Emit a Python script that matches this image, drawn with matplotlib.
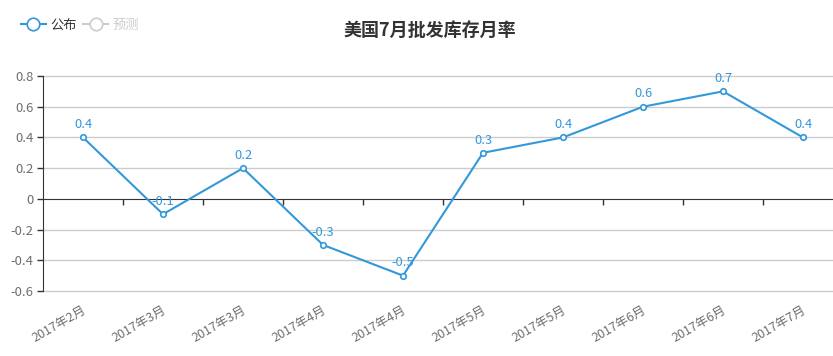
import matplotlib
matplotlib.use('Agg')
import matplotlib.pyplot as plt
import matplotlib.transforms as mtransforms
from matplotlib.lines import Line2D

plt.rcParams['font.family'] = ['Noto Sans CJK SC', 'DejaVu Sans']

# data
months = ['2017年2月', '2017年3月', '2017年3月', '2017年4月', '2017年4月',
          '2017年5月', '2017年5月', '2017年6月', '2017年6月', '2017年7月']
actual = [0.4, -0.1, 0.2, -0.3, -0.5, 0.3, 0.4, 0.6, 0.7, 0.4]
yticks = [-0.6, -0.4, -0.2, 0, 0.2, 0.4, 0.6, 0.8]

blue = '#3398db'
grey_txt = '#6e6e6e'
axis_col = '#333333'

W, H = 833, 356
fig = plt.figure(figsize=(W / 100, H / 100), dpi=100)
# plot area spills past the right edge like the original
ax = fig.add_axes([43 / W, (H - 291) / H, 800 / W, 215 / H])

x = list(range(len(months)))
ax.plot(x, actual, color=blue, lw=1.5, marker='o', ms=4, mfc='white',
        mec=blue, mew=1.2, zorder=5, clip_on=False)

for xi, v in zip(x, actual):
    ax.annotate('{:g}'.format(v), (xi, v), xytext=(0, 4.5), textcoords='offset points',
                ha='center', va='bottom', color=blue, fontsize=9.3, zorder=6)

ax.set_xlim(-0.5, len(months) - 0.5)
ax.set_ylim(-0.6, 0.8)
ax.set_yticks(yticks)
ax.set_yticklabels(['{:g}'.format(t) for t in yticks])
for t in yticks:
    if t != 0:
        ax.axhline(t, color='#cccccc', lw=1, zorder=1, clip_on=False)

for s in ['top', 'right']:
    ax.spines[s].set_visible(False)
ax.spines['left'].set_color(axis_col)
ax.spines['bottom'].set_position(('data', 0))
ax.spines['bottom'].set_color(axis_col)
ax.spines['bottom'].set_zorder(3)

ax.tick_params(axis='y', colors=axis_col, labelcolor=grey_txt, labelsize=9.5,
               length=4, width=1, pad=3)
# boundary ticks on the zero line
ax.set_xticks([i + 0.5 for i in x[:-1]])
ax.set_xticklabels([])
ax.tick_params(axis='x', colors=axis_col, length=4, width=1)

# category labels under the plot area
trans = mtransforms.blended_transform_factory(ax.transData, ax.transAxes)
for xi, m in zip(x, months):
    ax.text(xi + 0.03, -0.085, m, transform=trans, rotation=30, rotation_mode='anchor',
            ha='right', va='center', color=grey_txt, fontsize=9)

fig.text(430 / W, 1 - 30 / H, '美国7月批发库存月率', ha='center', va='center',
         fontsize=13, fontweight='bold', color='#333333')

handles = [Line2D([], [], color=blue, lw=1.5, marker='o', ms=9, mfc='white', mew=1.2),
           Line2D([], [], color='#cccccc', lw=1.5, marker='o', ms=9, mfc='white', mew=1.2)]
leg = fig.legend(handles, ['公布', '预测'], loc='center left',
                 bbox_to_anchor=(9 / W, 1 - 25 / H), ncol=2, frameon=False,
                 fontsize=9.5, handlelength=1.9, handletextpad=0.3, columnspacing=0.5)
leg.get_texts()[0].set_color('#333333')
leg.get_texts()[1].set_color('#cccccc')

fig.savefig('out.png', dpi=100)
